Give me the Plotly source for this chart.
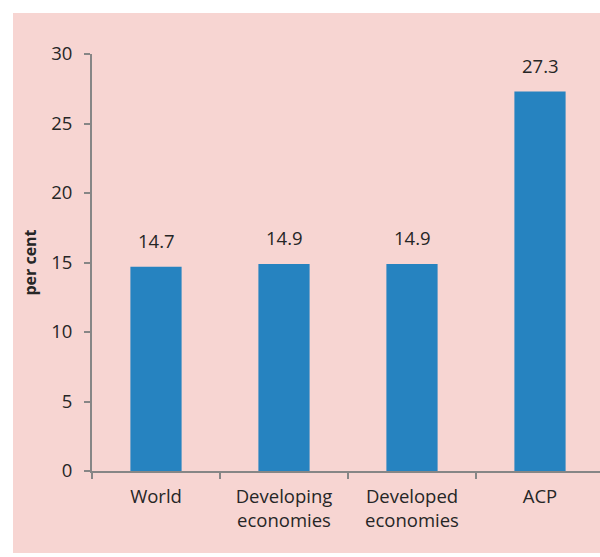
import plotly.graph_objects as go

categories = ["World", "Developing<br>economies", "Developed<br>economies", "ACP"]
values = [14.7, 14.9, 14.9, 27.3]
y_ticks = [0, 5, 10, 15, 20, 25, 30]

BAR = "#2683C0"
PINK = "#F7D5D2"
AXIS = "#868686"
TEXT = "#262626"
FONT = "Open Sans, Liberation Sans, sans-serif"
SIZE = 18.5

fig = go.Figure()
fig.add_trace(go.Bar(
    x=categories, y=values, width=0.4,
    marker=dict(color=BAR, line=dict(width=0)),
    hoverinfo="skip",
))

for c, v in zip(categories, values):
    fig.add_annotation(x=c, y=v, text=f"{v:.1f}", showarrow=False,
                       yanchor="middle", yshift=26,
                       font=dict(family=FONT, size=SIZE, color=TEXT))

# pink panel behind the chart
fig.add_shape(type="rect", xref="paper", yref="paper",
              x0=-0.1555, x1=1.05, y0=-0.1966, y1=1.0983,
              fillcolor=PINK, line=dict(width=0), layer="below")

fig.update_layout(
    width=600, height=557,
    margin=dict(l=92, r=0, t=54, b=86),
    paper_bgcolor="white",
    plot_bgcolor="rgba(0,0,0,0)",
    showlegend=False,
    font=dict(family=FONT, size=SIZE, color=TEXT),
    bargap=0.6,
)
fig.update_xaxes(
    type="category", range=[-0.5, -0.5 + 508 / 128],
    showline=True, linecolor=AXIS, linewidth=2,
    ticks="outside", tickson="boundaries", ticklen=6, tickcolor=AXIS, tickwidth=2,
    ticklabelstandoff=8,
    showgrid=False, zeroline=False,
    tickfont=dict(family=FONT, size=SIZE, color=TEXT),
)
fig.update_yaxes(
    range=[0, 30], tickvals=y_ticks,
    showline=True, linecolor=AXIS, linewidth=2,
    ticks="outside", ticklen=6, tickcolor=AXIS, tickwidth=2,
    ticklabelstandoff=8,
    showgrid=False, zeroline=False,
    tickfont=dict(family=FONT, size=SIZE, color=TEXT),
    title=dict(text="<b>per cent</b>", standoff=11,
               font=dict(family=FONT, size=16, color=TEXT)),
)

fig.write_html("out.html")
